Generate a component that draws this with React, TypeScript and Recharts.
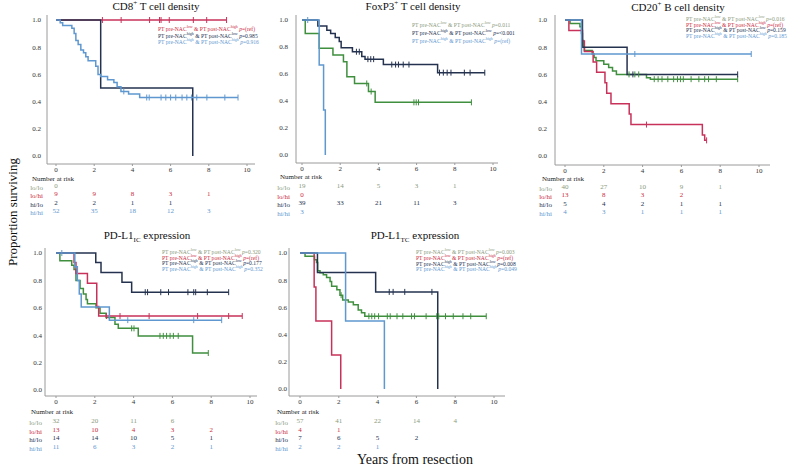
import React from 'react';
import { LineChart, Line, XAxis, YAxis } from 'recharts';

type Step = [number, number];

const GREEN = '#3f8f3f';
const RED = '#c8325a';
const NAVY = '#25324f';
const LBLUE = '#5f98d0';
const LOLO_TXT = '#8a9a7c';
const RED_TXT = '#cc2a3c';
const COLORS = [GREEN, RED, NAVY, LBLUE];
const ROW_COLORS = [LOLO_TXT, RED_TXT, NAVY, LBLUE];
const SERIF = '"Liberation Serif", "DejaVu Serif", serif';

const xTicks = [0, 2, 4, 6, 8, 10];
const yTicks = [0, 0.2, 0.4, 0.6, 0.8, 1.0];
const riskTicks = [0, 2, 4, 6, 8];
const groupLabels = ['lo/lo', 'lo/hi', 'hi/lo', 'hi/hi'];

// CD8+ T cell density
const cd8LoHiSteps: Step[] = [[0, 1]];
const cd8LoHiCens = [2.43, 3.41, 4.9, 5.42, 5.5, 5.93, 7.19, 7.89, 8.93];
const cd8HiLoSteps: Step[] = [[0, 1], [2.34, 0.5], [7.16, 0]];
const cd8HiHiSteps: Step[] = [
  [0, 1], [0.22, 0.98], [0.35, 0.96], [0.83, 0.94], [0.95, 0.9], [1.04, 0.85], [1.16, 0.82],
  [1.3, 0.78], [1.44, 0.76], [1.56, 0.73], [1.68, 0.7], [2.08, 0.66], [2.2, 0.6], [2.34, 0.585],
  [2.7, 0.56], [3.03, 0.54], [3.2, 0.51], [3.4, 0.475], [3.8, 0.455], [4.38, 0.43],
];
const cd8HiHiCens = [3.55, 4.75, 4.88, 5.5, 5.75, 6.0, 6.27, 6.6, 6.85, 7.1, 7.37, 7.9, 8.84, 9.53];
const cd8Risk = [[0], [9, 9, 8, 3, 1], [2, 2, 1, 1], [52, 35, 18, 12, 3]];

// FoxP3+ T cell density
const foxLoLoSteps: Step[] = [
  [0, 1], [0.17, 0.9], [0.9, 0.79], [1.62, 0.74], [2.17, 0.69], [2.35, 0.58], [2.75, 0.53],
  [3.48, 0.47], [3.83, 0.39],
];
const foxLoLoCens = [3.39, 3.62, 5.86, 5.98, 6.1, 8.87];
const foxHiLoSteps: Step[] = [
  [0, 1], [0.83, 0.955], [1.3, 0.925], [1.5, 0.9], [1.74, 0.87], [1.95, 0.84], [2.05, 0.795],
  [2.64, 0.765], [3.13, 0.73], [3.3, 0.71], [4.26, 0.67], [7.1, 0.61],
];
const foxHiLoCens = [2.85, 3.0, 3.45, 3.6, 3.75, 4.7, 4.9, 5.05, 5.3, 5.6, 7.2, 7.4, 7.6, 7.8, 8.5, 8.8, 9.57];
const foxHiHiSteps: Step[] = [[0, 1], [0.9, 0.667], [1.13, 0.333], [1.22, 0]];
const foxHiHiCens = [0.3];
const foxRisk = [[19, 14, 5, 3, 1], [0], [39, 33, 21, 11, 3], [3]];

// CD20+ B cell density
const cd20LoLoSteps: Step[] = [
  [0, 1], [0.26, 0.975], [0.77, 0.95], [0.85, 0.9], [0.9, 0.85], [0.95, 0.8], [1.0, 0.775],
  [1.4, 0.75], [1.5, 0.725], [1.6, 0.7], [2.0, 0.675], [2.25, 0.65], [2.45, 0.625], [2.65, 0.6],
  [4.2, 0.575], [4.4, 0.565],
];
const cd20LoLoCens = [3.3, 3.6, 3.8, 4.6, 4.8, 5.0, 5.3, 5.6, 5.8, 5.95, 6.1, 6.5, 6.9, 7.2, 7.4, 7.8, 8.9];
const cd20LoHiSteps: Step[] = [
  [0, 1], [0.2, 0.923], [0.9, 0.846], [1.0, 0.769], [1.45, 0.692], [1.63, 0.615], [2.06, 0.538],
  [2.15, 0.462], [2.37, 0.385], [3.31, 0.308], [3.4, 0.231], [7.08, 0.154], [7.2, 0.115],
];
const cd20LoHiCens = [4.2, 7.3];
const cd20HiLoSteps: Step[] = [[0, 1], [0.9, 0.8], [3.2, 0.6]];
const cd20HiLoCens = [3.5, 8.9];
const cd20HiHiSteps: Step[] = [[0, 1], [0.85, 0.75]];
const cd20HiHiCens = [3.6, 9.6];
const cd20Risk = [[40, 27, 10, 9, 1], [13, 8, 3, 2], [5, 4, 2, 1, 1], [4, 3, 1, 1, 1]];

// PD-L1 IC expression
const icLoLoSteps: Step[] = [
  [0, 1], [0.2, 0.944], [0.81, 0.91], [0.93, 0.88], [1.03, 0.8], [1.24, 0.74], [1.41, 0.7],
  [1.55, 0.66], [1.62, 0.63], [2.06, 0.6], [2.27, 0.56], [2.58, 0.53], [3.04, 0.48], [3.21, 0.45],
  [4.24, 0.395], [7.04, 0.27],
];
const icLoLoCens = [3.9, 4.02, 5.36, 5.53, 5.7, 5.88, 6.05, 6.3, 7.85];
const icLoHiSteps: Step[] = [[0, 1], [0.93, 0.93], [1.03, 0.85], [1.62, 0.78], [2.1, 0.61], [2.2, 0.54]];
const icLoHiCens = [2.6, 3.3, 4.8, 7.3, 8.9, 9.6];
const icHiLoSteps: Step[] = [[0, 1], [2.05, 0.93], [2.32, 0.857], [3.4, 0.786], [3.9, 0.714]];
const icHiLoCens = [4.6, 4.72, 5.4, 5.8, 6.8, 7.1, 7.2, 7.8, 8.9];
const icHiHiSteps: Step[] = [[0, 1], [0.97, 0.9], [1.1, 0.8], [1.2, 0.7], [1.3, 0.605], [2.75, 0.51]];
const icHiHiCens = [0.3, 3.7, 7.1, 8.54];
const icRisk = [[32, 20, 11, 6], [13, 10, 4, 3, 2], [14, 14, 10, 5, 1], [11, 6, 3, 2, 1]];

// PD-L1 TC expression
const tcLoLoSteps: Step[] = [
  [0, 1], [0.26, 0.976], [0.75, 0.95], [0.85, 0.93], [0.91, 0.87], [1.03, 0.855], [1.2, 0.84],
  [1.37, 0.82], [1.55, 0.79], [1.63, 0.755], [1.9, 0.73], [2.06, 0.69], [2.2, 0.655], [2.49, 0.64],
  [2.75, 0.62], [3.0, 0.58], [3.17, 0.56], [3.34, 0.535],
];
const tcLoLoCens = [2.12, 3.55, 3.7, 3.85, 4.05, 4.5, 4.65, 5.0, 5.3, 5.75, 5.9, 6.5, 7.05, 7.15, 7.5, 7.9, 8.4, 8.8, 9.6];
const tcLoHiSteps: Step[] = [[0, 1], [0.73, 0.75], [0.82, 0.5], [1.63, 0.25], [2.1, 0]];
const tcHiLoSteps: Step[] = [[0, 1], [0.9, 0.857], [3.9, 0.714], [7.1, 0]];
const tcHiLoCens = [4.6, 4.8, 5.4, 6.8];
const tcHiHiSteps: Step[] = [[0, 1], [2.35, 0.5], [4.35, 0]];
const tcRisk = [[57, 41, 22, 14, 4], [4, 1], [7, 6, 5, 2], [2, 2, 1]];

type Pt = { t: number; s: number; c: boolean };

const km = (steps: Step[], cens: number[] = []): Pt[] => {
  const pts: Pt[] = steps.map(([t, s]) => ({ t, s, c: false }));
  cens.forEach((t) => {
    let s = steps[0][1];
    steps.forEach(([st, sv]) => {
      if (st <= t) s = sv;
    });
    pts.push({ t, s, c: true });
  });
  return pts.sort((a, b) => a.t - b.t);
};

// anchor rows for the number-at-risk axes (span of the time axis)
const riskSpan = riskTicks.map((t) => ({ t, s: 0 }));

const censorDot = (color: string) => (props: any) => {
  const { cx, cy, payload, index } = props;
  if (!payload || !payload.c) return <g key={`n${index}`} />;
  return <line key={`c${index}`} x1={cx} x2={cx} y1={cy - 3} y2={cy + 3} stroke={color} strokeWidth={1} />;
};

type LegendRow = [string, string, string, string];

interface PanelCfg {
  left: number; top: number; width: number; height: number;
  yAxisW: number; mRight: number; mTop: number; mBottom: number;
  padL: number; padR: number; padT: number; padB: number;
  mainH: number; rowH: number; yTickMargin: number; rowOffset: number;
  series: (Pt[] | null)[];
  risk: number[][];
  title: React.ReactNode; titleX: number; titleY: number;
  headerX: number; headerY: number;
  legend: LegendRow[]; legendX: number; legendY: number; legendLH: number;
}

const ax = { stroke: '#9a9a9a' };

const Panel = ({ p }: { p: PanelCfg }) => (
  <>
    <div style={{ position: 'absolute', left: p.left, top: p.top }}>
      <LineChart width={p.width} height={p.height} margin={{ top: p.mTop, right: p.mRight, left: 0, bottom: p.mBottom }}>
        <XAxis
          type="number" dataKey="t" domain={[0, 10]} ticks={xTicks} interval={0}
          padding={{ left: p.padL, right: p.padR }} height={p.mainH} axisLine={ax} tickLine={ax}
          tickSize={2} tickMargin={1} tick={{ fontSize: 7, fill: '#333', fontFamily: SERIF }} allowDataOverflow
        />
        {p.risk.map((row, i) => (
          <XAxis
            key={`r${i}`} xAxisId={`r${i}`} type="number" dataKey="t" domain={[0, 10]} ticks={riskTicks} interval={0}
            padding={{ left: p.padL, right: p.padR }} height={p.rowH} axisLine={false} tickLine={false}
            tickSize={0} tickMargin={0} allowDataOverflow
            tick={{ fontSize: 7, fill: ROW_COLORS[i], fontFamily: SERIF }}
            tickFormatter={(v: number) => {
              const n = row[Math.round(v / 2)];
              return n === undefined ? '' : String(n);
            }}
            label={{ value: groupLabels[i], position: 'left', offset: p.rowOffset, fill: ROW_COLORS[i], fontSize: 7, fontFamily: SERIF }}
          />
        ))}
        <YAxis
          type="number" domain={[0, 1]} ticks={yTicks} interval={0} width={p.yAxisW}
          padding={{ top: p.padT, bottom: p.padB }} axisLine={ax} tickLine={false} tickSize={0}
          tickMargin={p.yTickMargin} tick={{ fontSize: 7, fill: '#333', fontFamily: SERIF }}
          tickFormatter={(v: number) => v.toFixed(1)}
        />
        {p.risk.map((_, i) => (
          <Line
            key={`a${i}`} xAxisId={`r${i}`} data={riskSpan} dataKey="s" stroke="none" dot={false}
            activeDot={false} isAnimationActive={false} legendType="none"
          />
        ))}
        {p.series.map((pts, i) =>
          pts ? (
            <Line
              key={`s${i}`} data={pts} dataKey="s" type="stepAfter" stroke={COLORS[i]} strokeWidth={1.5}
              dot={censorDot(COLORS[i])} activeDot={false} isAnimationActive={false}
            />
          ) : null,
        )}
      </LineChart>
    </div>
    <div style={{ position: 'absolute', left: p.titleX - 80, width: 160, top: p.titleY - 7, textAlign: 'center', fontSize: 11, lineHeight: '14px', color: '#111', whiteSpace: 'nowrap' }}>
      {p.title}
    </div>
    <div style={{ position: 'absolute', left: p.headerX, top: p.headerY - 4, fontSize: 7, lineHeight: '7px', color: '#222', whiteSpace: 'nowrap' }}>
      Number at risk
    </div>
    <div style={{ position: 'absolute', left: p.legendX, top: p.legendY, fontSize: 5.6, lineHeight: `${p.legendLH}px`, whiteSpace: 'nowrap' }}>
      {p.legend.map(([pre, post, pv, color], i) => (
        <div key={i} style={{ color, height: p.legendLH }}>
          PT pre-NAC<sup style={{ fontSize: 4, lineHeight: 0 }}>{pre}</sup> &amp; PT post-NAC<sup style={{ fontSize: 4, lineHeight: 0 }}>{post}</sup> <i>p</i>={pv}
        </div>
      ))}
    </div>
  </>
);

const sup = (s: string) => <sup style={{ fontSize: 7, lineHeight: 0 }}>{s}</sup>;
const sub = (s: string) => <sub style={{ fontSize: 7, lineHeight: 0 }}>{s}</sub>;

const panels: PanelCfg[] = [
  {
    left: 0, top: 0, width: 265, height: 225, yAxisW: 47, mRight: 10, mTop: 15, mBottom: 8,
    padL: 9, padR: 8, padT: 5, padB: 8, mainH: 19, rowH: 8.5, yTickMargin: 6, rowOffset: 4,
    series: [null, km(cd8LoHiSteps, cd8LoHiCens), km(cd8HiLoSteps), km(cd8HiHiSteps, cd8HiHiCens)],
    risk: cd8Risk, title: <>CD8{sup('+')} T cell density</>, titleX: 156, titleY: 6,
    headerX: 32, headerY: 179.5,
    legend: [['low', 'high', '(ref)', RED_TXT], ['high', 'low', '0.985', NAVY], ['high', 'high', '0.916', LBLUE]],
    legendX: 158, legendY: 26, legendLH: 6.5,
  },
  {
    left: 265, top: 0, width: 240, height: 225, yAxisW: 31, mRight: 7, mTop: 15, mBottom: 7.2,
    padL: 6, padR: 5, padT: 5, padB: 8, mainH: 20, rowH: 8.7, yTickMargin: 8, rowOffset: 6,
    series: [km(foxLoLoSteps, foxLoLoCens), null, km(foxHiLoSteps, foxHiLoCens), km(foxHiHiSteps, foxHiHiCens)],
    risk: foxRisk, title: <>FoxP3{sup('+')} T cell density</>, titleX: 413, titleY: 6,
    headerX: 280, headerY: 178,
    legend: [['low', 'low', '0.011', LOLO_TXT], ['high', 'low', '<0.001', NAVY], ['high', 'high', '(ref)', LBLUE]],
    legendX: 412, legendY: 21, legendLH: 8,
  },
  {
    left: 530, top: 0, width: 270, height: 225, yAxisW: 25, mRight: 30, mTop: 15, mBottom: 7.4,
    padL: 10, padR: 11, padT: 5, padB: 9, mainH: 19, rowH: 8.4, yTickMargin: 8, rowOffset: 3,
    series: [
      km(cd20LoLoSteps, cd20LoLoCens), km(cd20LoHiSteps, cd20LoHiCens),
      km(cd20HiLoSteps, cd20HiLoCens), km(cd20HiHiSteps, cd20HiHiCens),
    ],
    risk: cd20Risk, title: <>CD20{sup('+')} B cell density</>, titleX: 678, titleY: 7,
    headerX: 542, headerY: 180,
    legend: [
      ['low', 'low', '0.016', LOLO_TXT], ['low', 'high', '(ref)', RED_TXT],
      ['high', 'low', '0.159', NAVY], ['high', 'high', '0.185', LBLUE],
    ],
    legendX: 686, legendY: 17, legendLH: 5.7,
  },
  {
    left: 0, top: 230, width: 265, height: 230, yAxisW: 45, mRight: 8, mTop: 18, mBottom: 7.2,
    padL: 11, padR: 7, padT: 5, padB: 6, mainH: 22, rowH: 8.7, yTickMargin: 3, rowOffset: 3,
    series: [
      km(icLoLoSteps, icLoLoCens), km(icLoHiSteps, icLoHiCens),
      km(icHiLoSteps, icHiLoCens), km(icHiHiSteps, icHiHiCens),
    ],
    risk: icRisk, title: <>PD-L1{sub('IC')} expression</>, titleX: 147, titleY: 235,
    headerX: 31, headerY: 412.5,
    legend: [
      ['low', 'low', '0.320', LOLO_TXT], ['low', 'high', '(ref)', RED_TXT],
      ['high', 'low', '0.177', NAVY], ['high', 'high', '0.352', LBLUE],
    ],
    legendX: 162, legendY: 250, legendLH: 5.7,
  },
  {
    left: 265, top: 230, width: 270, height: 230, yAxisW: 24, mRight: 30, mTop: 18, mBottom: 7.2,
    padL: 11, padR: 11, padT: 5, padB: 7, mainH: 22, rowH: 8.7, yTickMargin: 2, rowOffset: 1,
    series: [
      km(tcLoLoSteps, tcLoLoCens), km(tcLoHiSteps), km(tcHiLoSteps, tcHiLoCens), km(tcHiHiSteps),
    ],
    risk: tcRisk, title: <>PD-L1{sub('TC')} expression</>, titleX: 415, titleY: 235,
    headerX: 277, headerY: 412.5,
    legend: [
      ['low', 'low', '0.003', LOLO_TXT], ['low', 'high', '(ref)', RED_TXT],
      ['high', 'low', '0.008', NAVY], ['high', 'high', '0.049', LBLUE],
    ],
    legendX: 416, legendY: 250, legendLH: 5.8,
  },
];

export default function App() {
  return (
    <div
      style={{
        position: 'absolute', left: 0, top: 0, width: 800, height: 468, background: '#fff', overflow: 'hidden',
        fontFamily: SERIF,
      }}
    >
      {panels.map((p, i) => (
        <Panel key={i} p={p} />
      ))}
      <div
        style={{
          position: 'absolute', left: 13 - 80, top: 212 - 8, width: 160, height: 16, lineHeight: '16px',
          textAlign: 'center', fontSize: 13, color: '#111', transform: 'rotate(-90deg)', whiteSpace: 'nowrap',
        }}
      >
        Proportion surviving
      </div>
      <div
        style={{
          position: 'absolute', left: 415 - 100, top: 452, width: 200, textAlign: 'center', fontSize: 14,
          lineHeight: '16px', color: '#111', whiteSpace: 'nowrap',
        }}
      >
        Years from resection
      </div>
    </div>
  );
}
